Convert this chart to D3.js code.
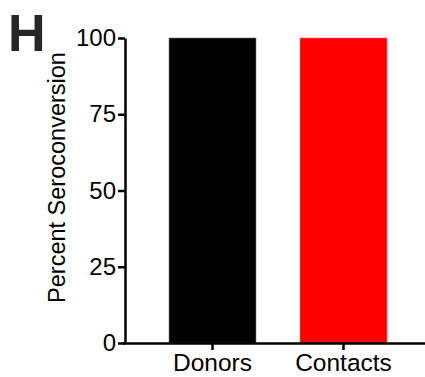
<!DOCTYPE html>
<html><head><meta charset="utf-8">
<script src="https://cdn.jsdelivr.net/npm/d3@7"></script>
<style>body{margin:0;background:#fff}svg{display:block}text{font-family:"Liberation Sans",Arial,sans-serif}</style>
</head><body>
<svg id="c" width="425" height="377"></svg>
<script>
const categories = ["Donors", "Contacts"];
const values = [100, 100];
const colors = ["#000000", "#ff0000"];
const yTicks = [0, 25, 50, 75, 100];

const svg = d3.select("#c");
const y = d3.scaleLinear().domain([0, 100]).range([343, 38]);
const x = d3.scaleBand().domain(categories).range([125, 431]).paddingInner(0.336).paddingOuter(0.336);

svg.selectAll("rect.bar").data(categories).enter().append("rect")
  .attr("class", "bar")
  .attr("x", d => x(d))
  .attr("width", x.bandwidth())
  .attr("y", (d, i) => y(values[i]))
  .attr("height", (d, i) => y(0) - y(values[i]))
  .attr("fill", (d, i) => colors[i])
  .attr("stroke", (d, i) => i === 0 ? "#777" : "#f66")
  .attr("stroke-width", 0.6);

const ya = svg.append("g").attr("transform", "translate(125,0)")
  .call(d3.axisLeft(y).tickValues(yTicks).tickSize(7).tickPadding(2).tickSizeOuter(0));
ya.select(".domain").attr("stroke", "#000").attr("stroke-width", 2.5);
ya.selectAll(".tick line").attr("stroke", "#000").attr("stroke-width", 2.5);
ya.selectAll(".tick text").attr("font-size", 24).attr("fill", "#000").attr("font-family", "Liberation Sans, Arial, sans-serif");

const xa = svg.append("g").attr("transform", "translate(0,343)")
  .call(d3.axisBottom(x).tickSize(7).tickPadding(4).tickSizeOuter(0));
xa.select(".domain").attr("d", "M123,0.5H425").attr("stroke", "#000").attr("stroke-width", 2.5);
xa.selectAll(".tick line").attr("stroke", "#000").attr("stroke-width", 2.5);
xa.selectAll(".tick text").attr("font-size", 24.5).attr("fill", "#000").attr("font-family", "Liberation Sans, Arial, sans-serif");

svg.append("text").attr("transform", "translate(65,177.5) rotate(-90)")
  .attr("text-anchor", "middle").attr("font-size", 23.5).attr("fill", "#000")
  .text("Percent Seroconversion");

svg.append("text").attr("x", 8).attr("y", 51)
  .attr("font-size", 52).attr("font-weight", "bold").attr("fill", "#262626")
  .text("H");
</script>
</body></html>
